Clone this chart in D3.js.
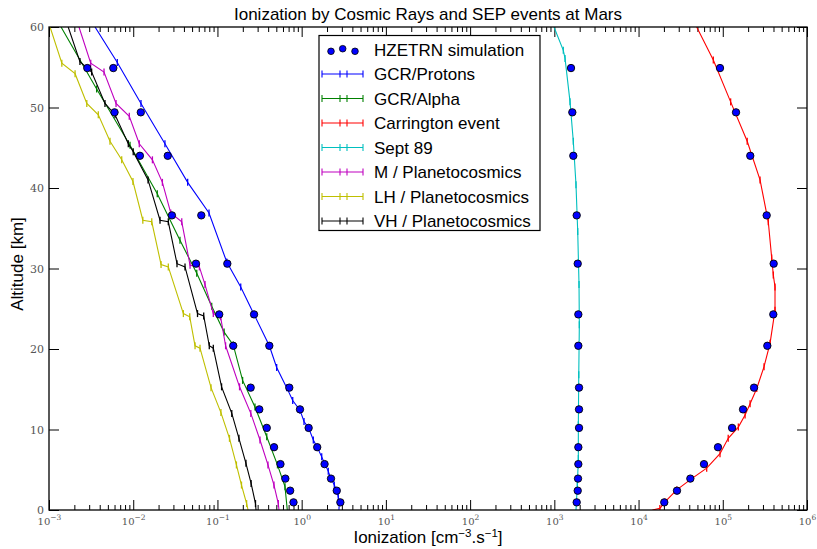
<!DOCTYPE html>
<html><head><meta charset="utf-8">
<script src="https://cdn.jsdelivr.net/npm/d3@7"></script>
<style>
body{margin:0;background:#fff;}
svg{display:block;}
</style></head>
<body><svg id="c" width="817" height="549"></svg>
<script>
// ---------- data ----------
const title = "Ionization by Cosmic Rays and SEP events at Mars";
const xMajorTicks = [1e-3,1e-2,1e-1,1e0,1e1,1e2,1e3,1e4,1e5,1e6];
const xTickExps = [-3,-2,-1,0,1,2,3,4,5,6];
const yTicks = [0,10,20,30,40,50,60];

const hzAlt    = [54.9,49.4,44.0,36.6,30.6,24.3,20.4,15.2,12.5,10.2,7.8,5.7,3.9,2.4,0.95];
const hzAlpha  = [0.00285,0.0060,0.012,0.0288,0.0556,0.105,0.154,0.248,0.314,0.385,0.47,0.56,0.64,0.73,0.80];
const hzProton = [0.0058,0.0123,0.0257,0.0643,0.131,0.272,0.413,0.713,0.955,1.21,1.53,1.87,2.23,2.61,2.88];
const hzSept   = [1578,1635,1680,1843,1895,1928,1928,1964,1964,1964,1928,1928,1911,1895,1843];
const hzCarr   = [92700,143600,212000,332000,402000,398000,338000,235000,174000,129000,87700,59800,41200,28600,20200];

const protonAlt = [60,55.6,50.5,45.5,40.7,36.9,30.8,27.7,24.3,20.4,17.7,15.2,13.6,12.4,11.0,10.2,8.7,7.8,6.6,5.7,4.8,3.9,3.1,2.4,1.65,0.95,0];
const protonVal = [0.00352,0.00647,0.01236,0.0238,0.0443,0.0794,0.129,0.189,0.272,0.413,0.505,0.664,0.783,0.955,1.066,1.21,1.375,1.53,1.73,1.89,2.07,2.23,2.44,2.61,2.72,2.80,2.77];

const alphaAlt = [60,52.3,45.3,39.3,33.5,29.4,25.3,22.1,20.5,16.1,12.8,9.1,5.6,2.9,0];
const alphaVal = [0.00139,0.00368,0.00916,0.0193,0.0359,0.0568,0.0855,0.120,0.154,0.199,0.279,0.385,0.516,0.634,0.675];

const carrAlt = [60,55.9,50.7,45.8,41.0,35.8,31.3,29.2,27.7,24.8,20.7,17.8,15.1,13.2,11.8,10.3,8.9,7.0,5.2,3.9,2.5,1.0,0.2,0];
const carrVal = [49000,77200,124000,195000,277000,347000,381000,398000,417000,417000,364000,309000,253000,211000,184000,153000,116000,92700,64400,42800,28400,20600,17900,14600];

const septAlt = [60,57.1,56.1,50.7,45.8,40.4,34.6,28.0,23.0,16.8,10.6,6.4,3.1,0];
const septVal = [991,1278,1340,1536,1680,1808,1895,1964,1981,1950,1928,1928,1876,1808];

const mAlt = [60,55.5,54.4,50.5,48.9,45.5,43.5,40.7,36.9,35.8,30.4,30.2,28.0,24.4,24.0,20.4,15.3,12.0,8.7,5.6,3.1,0.8,0];
const mVal = [0.00227,0.00313,0.00450,0.00625,0.00898,0.0118,0.0169,0.0222,0.0279,0.0377,0.0473,0.0610,0.0712,0.0893,0.109,0.125,0.183,0.249,0.320,0.398,0.469,0.528,0.538];

const lhAlt = [60,55.5,54.2,50.5,49.1,45.8,43.5,40.8,36.0,35.8,30.5,30.2,24.4,24.0,20.4,20.1,15.2,12.1,8.9,5.6,3.1,0.8,0];
const lhVal = [0.00103,0.00142,0.00204,0.00281,0.00385,0.00530,0.00730,0.00993,0.0130,0.0166,0.0214,0.0261,0.0394,0.0469,0.0542,0.0621,0.0839,0.110,0.139,0.168,0.193,0.222,0.231];

const vhAlt = [60,55.7,54.4,50.5,49.1,45.5,44.5,41.0,36.0,35.8,30.6,30.2,24.4,24.1,20.4,20.1,15.3,12.0,8.9,5.8,3.3,0.8,0];
const vhVal = [0.00169,0.00233,0.00321,0.00462,0.00608,0.00874,0.0100,0.0150,0.0208,0.0261,0.0331,0.0412,0.0580,0.0687,0.0800,0.0893,0.112,0.148,0.180,0.218,0.251,0.283,0.287];

const seriesNames  = ["GCR/Protons","GCR/Alpha","Carrington event","Sept 89","M / Planetocosmics","LH / Planetocosmics","VH / Planetocosmics"];
const seriesColors = ["#0000ff","#008000","#ff0000","#00bfbf","#bf00bf","#bfbf00","#000000"];
const seriesAlts   = [protonAlt,alphaAlt,carrAlt,septAlt,mAlt,lhAlt,vhAlt];
const seriesVals   = [protonVal,alphaVal,carrVal,septVal,mVal,lhVal,vhVal];

// ---------- layout ----------
const L=49, R=807, T=27, B=510;
const svg = d3.select("#c");
const x = d3.scaleLog().domain([1e-3,1e6]).range([L,R]);
const y = d3.scaleLinear().domain([0,60]).range([B,T]);

svg.append("defs").append("clipPath").attr("id","clip")
  .append("rect").attr("x",L).attr("y",T).attr("width",R-L).attr("height",B-T);

const minors = [];
for (let e=-3;e<6;e++) for (let m=2;m<=9;m++) minors.push(m*Math.pow(10,e));

const tickFont = "'DejaVu Serif', serif";
function styleAxis(g){ g.select(".domain").remove(); g.selectAll(".tick line").attr("stroke","#000").attr("stroke-width",1); }

svg.append("g").attr("transform",`translate(0,${B})`)
  .call(d3.axisBottom(x).tickValues(minors).tickSizeInner(-5).tickSizeOuter(0).tickFormat(""))
  .call(styleAxis);
svg.append("g").attr("transform",`translate(0,${T})`)
  .call(d3.axisTop(x).tickValues(minors).tickSizeInner(-5).tickSizeOuter(0).tickFormat(""))
  .call(styleAxis);
svg.append("g").attr("transform",`translate(0,${T})`)
  .call(d3.axisTop(x).tickValues(xMajorTicks).tickSizeInner(-10).tickSizeOuter(0).tickFormat(""))
  .call(styleAxis);

const xb = svg.append("g").attr("transform",`translate(0,${B})`)
  .call(d3.axisBottom(x).tickValues(xMajorTicks).tickSizeInner(-10).tickSizeOuter(0).tickPadding(8).tickFormat(""))
  .call(styleAxis);
xb.selectAll(".tick").each(function(d,i){
  const t = d3.select(this).append("text").attr("y",15).attr("text-anchor","middle")
    .attr("font-family",tickFont).attr("font-size",10).attr("fill","#555");
  t.append("tspan").text("10");
  t.append("tspan").attr("dy",-5).attr("font-size",7.5).text(xTickExps[i]<0 ? "\u2212"+(-xTickExps[i]) : xTickExps[i]);
});

svg.append("g").attr("transform",`translate(${L},0)`)
  .call(d3.axisLeft(y).tickValues(yTicks).tickSizeInner(-10).tickSizeOuter(0).tickPadding(5))
  .call(styleAxis)
  .call(g=>g.selectAll("text").attr("font-family",tickFont).attr("font-size",11).attr("fill","#555"));
svg.append("g").attr("transform",`translate(${R},0)`)
  .call(d3.axisRight(y).tickValues(yTicks).tickSizeInner(-10).tickSizeOuter(0).tickFormat(""))
  .call(styleAxis);

// lines
const plot = svg.append("g").attr("clip-path","url(#clip)");
const line = d3.line().x(d=>x(d[0])).y(d=>y(d[1]));
seriesNames.forEach((n,i)=>{
  const pts = seriesVals[i].map((v,k)=>[v,seriesAlts[i][k]]);
  plot.append("path").datum(pts).attr("d",line).attr("fill","none")
    .attr("stroke",seriesColors[i]).attr("stroke-width",1.1);
  plot.selectAll(null).data(pts.filter(p=>p[1]>0 && p[1]<60)).enter().append("line")
    .attr("x1",d=>x(d[0])).attr("x2",d=>x(d[0]))
    .attr("y1",d=>y(d[1])-3.5).attr("y2",d=>y(d[1])+3.5)
    .attr("stroke",seriesColors[i]).attr("stroke-width",1.3);
});

// HZETRN dots
[hzAlpha,hzProton,hzSept,hzCarr].forEach(arr=>{
  plot.selectAll(null).data(arr.map((v,k)=>[v,hzAlt[k]])).enter().append("circle")
    .attr("cx",d=>x(d[0])).attr("cy",d=>y(d[1])).attr("r",3.7)
    .attr("fill","#0000ff").attr("stroke","#000").attr("stroke-width",0.9);
});

// frame
svg.append("rect").attr("x",L).attr("y",T).attr("width",R-L).attr("height",B-T)
  .attr("fill","none").attr("stroke","#000").attr("stroke-width",1.3);

// legend
const lg = svg.append("g");
lg.append("rect").attr("x",319).attr("y",35.5).attr("width",221).attr("height",195)
  .attr("fill","#fff").attr("stroke","#000").attr("stroke-width",1.2);
const rowY = k => 49.5 + k*24.5;
const lblFont = "'Liberation Sans', Arial, sans-serif";
const fs = 17;
lg.selectAll(null).data([[331,51.3],[342.7,48.7],[355,51.3]]).enter().append("circle")
  .attr("cx",d=>d[0]).attr("cy",d=>d[1]).attr("r",3.3).attr("fill","#0000ff").attr("stroke","#000").attr("stroke-width",0.8);
lg.append("text").attr("x",374).attr("y",rowY(0)+6).attr("font-family",lblFont).attr("font-size",fs).text("HZETRN simulation");
seriesNames.forEach((n,i)=>{
  const yy = rowY(i+1);
  lg.append("line").attr("x1",322).attr("x2",363).attr("y1",yy).attr("y2",yy).attr("stroke",seriesColors[i]).attr("stroke-width",1.1);
  [322,340,347,363].forEach(cx=>lg.append("line").attr("x1",cx).attr("x2",cx).attr("y1",yy-3.5).attr("y2",yy+3.5).attr("stroke",seriesColors[i]).attr("stroke-width",1.1));
  lg.append("text").attr("x",374).attr("y",yy+6).attr("font-family",lblFont).attr("font-size",fs).text(n);
});

// titles
svg.append("text").attr("x",428).attr("y",20).attr("text-anchor","middle")
  .attr("font-family",lblFont).attr("font-size",fs).text(title);
const xl = svg.append("text").attr("x",428).attr("y",543).attr("text-anchor","middle")
  .attr("font-family",lblFont).attr("font-size",fs);
xl.append("tspan").text("Ionization [cm");
xl.append("tspan").attr("dy",-6).attr("font-size",11.5).text("\u22123");
xl.append("tspan").attr("dy",6).text(".s");
xl.append("tspan").attr("dy",-6).attr("font-size",11.5).text("\u22121");
xl.append("tspan").attr("dy",6).text("]");
svg.append("text").attr("transform","translate(23,264) rotate(-90)").attr("text-anchor","middle")
  .attr("font-family",lblFont).attr("font-size",fs).text("Altitude [km]");
</script></body></html>
